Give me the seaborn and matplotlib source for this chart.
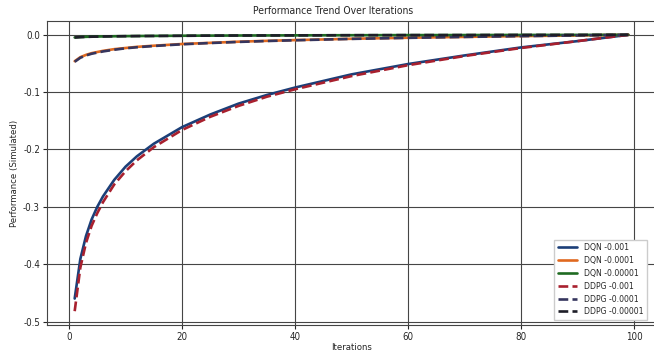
import pandas as pd
import seaborn as sns
import matplotlib.pyplot as plt

# values
iterations = [1, 2, 3, 4, 5, 6, 8, 10, 12, 15, 20, 25, 30, 35, 40, 50, 60, 70, 80, 90, 99]

dqn_1e3 = [-0.460, -0.391, -0.351, -0.322, -0.300, -0.282, -0.253, -0.230, -0.212, -0.190, -0.161,
           -0.139, -0.120, -0.105, -0.092, -0.069, -0.051, -0.036, -0.022, -0.011, 0.0]
dqn_1e4 = [-0.046, -0.039, -0.035, -0.032, -0.030, -0.028, -0.025, -0.023, -0.021, -0.019, -0.016,
           -0.014, -0.012, -0.0105, -0.0092, -0.0069, -0.0051, -0.0036, -0.0022, -0.0011, 0.0]
dqn_1e5 = [-0.0046, -0.0039, -0.0035, -0.0032, -0.0030, -0.0028, -0.0025, -0.0023, -0.0021, -0.0019,
           -0.0016, -0.0014, -0.0012, -0.0011, -0.0009, -0.0007, -0.0005, -0.0004, -0.0002, -0.0001, 0.0]
ddpg_1e3 = [-0.482, -0.406, -0.363, -0.333, -0.311, -0.292, -0.261, -0.238, -0.219, -0.196, -0.166,
            -0.143, -0.124, -0.108, -0.095, -0.072, -0.053, -0.037, -0.023, -0.011, 0.0]
ddpg_1e4 = [-0.047, -0.040, -0.036, -0.033, -0.031, -0.029, -0.026, -0.0235, -0.0217, -0.0195, -0.0165,
            -0.0143, -0.0124, -0.0108, -0.0095, -0.0071, -0.0053, -0.0037, -0.0023, -0.0011, 0.0]
ddpg_1e5 = [-0.0047, -0.0040, -0.0036, -0.0033, -0.0031, -0.0029, -0.0026, -0.0024, -0.0022, -0.0020,
            -0.0017, -0.0014, -0.0012, -0.0011, -0.0010, -0.0007, -0.0005, -0.0004, -0.0002, -0.0001, 0.0]

labels = ["DQN -0.001", "DQN -0.0001", "DQN -0.00001", "DDPG -0.001", "DDPG -0.0001", "DDPG -0.00001"]
series = [dqn_1e3, dqn_1e4, dqn_1e5, ddpg_1e3, ddpg_1e4, ddpg_1e5]
colors = ["#1c3f78", "#e0691f", "#1f6b22", "#a8202e", "#35355e", "#1e1e28"]
styles = ["-", "-", "-", "--", "--", "--"]

sns.set_style("whitegrid", {"grid.color": "#454545", "axes.edgecolor": "#444444"})
plt.rcParams["font.family"] = ["DejaVu Sans"]
plt.rcParams["font.stretch"] = "condensed"
plt.rcParams["axes.unicode_minus"] = False

fig = plt.figure(figsize=(6.54, 3.52), dpi=100)
ax = fig.add_axes([47 / 654, 27 / 352, 609 / 654, 304 / 352])

for lab, vals, col, ls in zip(labels, series, colors, styles):
    df = pd.DataFrame({"Iterations": iterations, "Performance": vals})
    sns.lineplot(data=df, x="Iterations", y="Performance", ax=ax, color=col,
                 linestyle=ls, linewidth=1.9, label=lab)

ax.grid(True, linewidth=0.8)
ax.set_xticks([0, 20, 40, 60, 80, 100])
# the reference is cropped on the right, so its title sits left of the axes centre
ax.set_title("Performance Trend Over Iterations", fontsize=7.5, pad=5, x=(333 - 47) / 609)
ax.set_xlabel("Iterations", fontsize=6.8, labelpad=1)
ax.set_ylabel("Performance (Simulated)", fontsize=6.8, labelpad=3)
ax.tick_params(labelsize=7, length=3, pad=2)
ax.tick_params(axis="both", which="major", left=True, bottom=True)
ax.legend(loc="lower right", fontsize=6.2, frameon=True, framealpha=1, edgecolor="#cccccc",
          fancybox=False, borderaxespad=0.6, bbox_to_anchor=(0.993, 0.0),
          handlelength=2.2, labelspacing=0.45)

fig.savefig("out.png", dpi=100)
